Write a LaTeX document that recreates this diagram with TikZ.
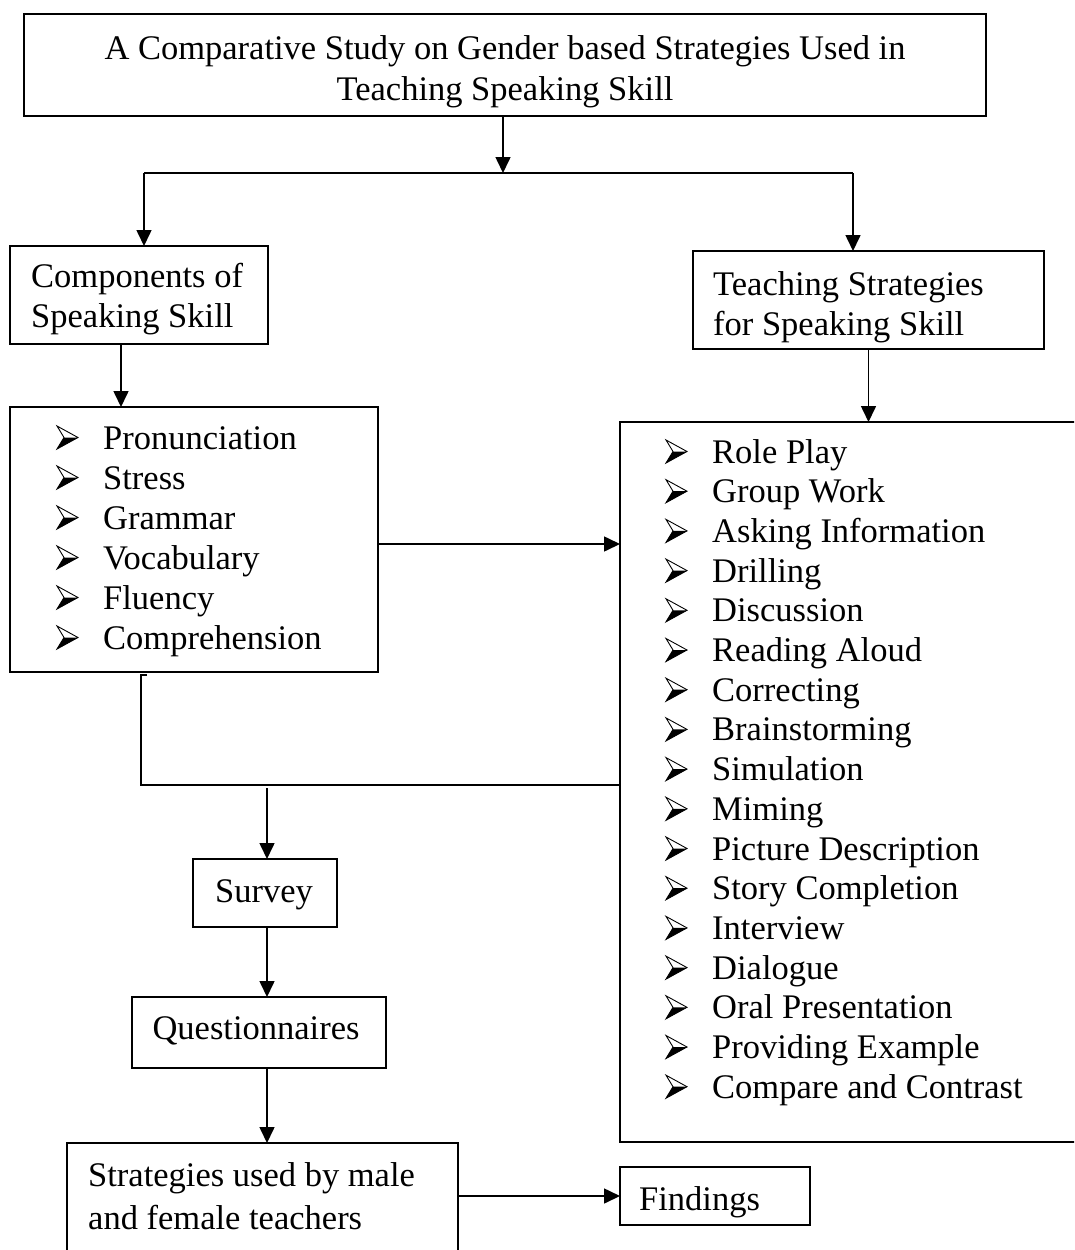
\documentclass[tikz,border=0pt]{standalone}
\usepackage{fontspec}
\setmainfont{Liberation Serif}
\usetikzlibrary{arrows.meta,calc}
\begin{document}
\begin{tikzpicture}[x=1pt,y=-1pt,
  box/.style={draw,line width=1.6pt,inner sep=0pt,outer sep=0pt,anchor=north west},
  txt/.style={inner sep=0pt,anchor=base west,font=\fontsize{34.5}{40}\selectfont},
  ctxt/.style={txt,anchor=base},
  arr/.style={line width=1.6pt,-{Triangle[length=16pt,width=15pt]}},
  ln/.style={line width=1.6pt},
  bul/.pic={
    \fill (0,0) -- (21,-11.5) -- (7,-11.5) -- cycle;
    \draw[line width=0.9pt,line join=miter] (0,-23) -- (21,-11.5) -- (0,0) -- (7,-11.5) -- cycle;
  }]
\useasboundingbox (0,0) rectangle (1074,1250);
\clip (0,0) rectangle (1074,1250);
\fill[white] (0,0) rectangle (1074,1250);

% boxes
\node[box,minimum width=962pt,minimum height=102pt] (title) at (24,14) {};
\node[box,minimum width=258pt,minimum height=98pt] (comp) at (10,246) {};
\node[box,minimum width=351pt,minimum height=98pt] (teach) at (693,251) {};
\node[box,minimum width=368pt,minimum height=265pt] (lst1) at (10,407) {};
\node[box,minimum width=470pt,minimum height=720pt] (lst2) at (620,422) {};
\node[box,minimum width=144pt,minimum height=68pt] (surv) at (193,859) {};
\node[box,minimum width=254pt,minimum height=71pt] (quest) at (132,997) {};
\node[box,minimum width=391pt,minimum height=140pt] (strat) at (67,1143) {};
\node[box,minimum width=190pt,minimum height=58pt] (find) at (620,1167) {};

% texts
\node[ctxt] (t1) at (505,59) {A Comparative Study on Gender based Strategies Used in};
\node[ctxt] (t2) at (505,100) {Teaching Speaking Skill};
\node[txt] (c1) at (31,287) {Components of};
\node[txt] (c2) at (31,327) {Speaking Skill};
\node[txt] (s1) at (713,295) {Teaching Strategies};
\node[txt] (s2) at (713,335) {for Speaking Skill};
\node[ctxt] (sv) at (264,902) {Survey};
\node[ctxt] (qs) at (256,1039) {Questionnaires};
\node[txt] (m1) at (88,1186) {Strategies used by male};
\node[txt] (m2) at (88,1229) {and female teachers};
\node[txt] (fd) at (639,1210) {Findings};

\foreach \t [count=\i from 0] in {Pronunciation,Stress,Grammar,Vocabulary,Fluency,Comprehension} {
  \pic at (57,449+40*\i) {bul};
  \node[txt] (a\i) at (103,449+40*\i) {\t};
}
\foreach \t [count=\i from 0] in {Role Play,Group Work,Asking Information,Drilling,Discussion,Reading Aloud,Correcting,Brainstorming,Simulation,Miming,Picture Description,Story Completion,Interview,Dialogue,Oral Presentation,Providing Example,Compare and Contrast} {
  \pic at (666,463+39.7*\i) {bul};
  \node[txt] (b\i) at (712,463+39.7*\i) {\t};
}

% connectors
\coordinate (jl) at (144,173);
\coordinate (jr) at (853,173);
\coordinate (jm) at (503,173);
\draw[arr] (jm |- title.south) -- (jm);
\draw[ln] (jl) -- (jr);
\draw[arr] (jl) -- (jl |- comp.north);
\draw[arr] (jr) -- (jr |- teach.north);
\draw[arr] ([xshift=-18pt]comp.south) -- ([xshift=-18pt]comp.south |- lst1.north);
\draw[arr] (teach.south) -- (teach.south |- lst2.north);
\draw[arr] ([yshift=-4.5pt]lst1.east) -- ([yshift=-4.5pt]lst1.east -| lst2.west);
\coordinate (bt) at (141,675);
\coordinate (bb) at (141,785);
\coordinate (sx) at (267,788);
\draw[ln] (147,675) -- (bt) -- (bb) -- (bb -| lst2.west);
\draw[arr] (sx) -- (sx |- surv.north);
\draw[arr] (sx |- surv.south) -- (sx |- quest.north);
\draw[arr] (sx |- quest.south) -- (sx |- strat.north);
\draw[arr] (find.west -| strat.east) -- (find.west);
\end{tikzpicture}
\end{document}
